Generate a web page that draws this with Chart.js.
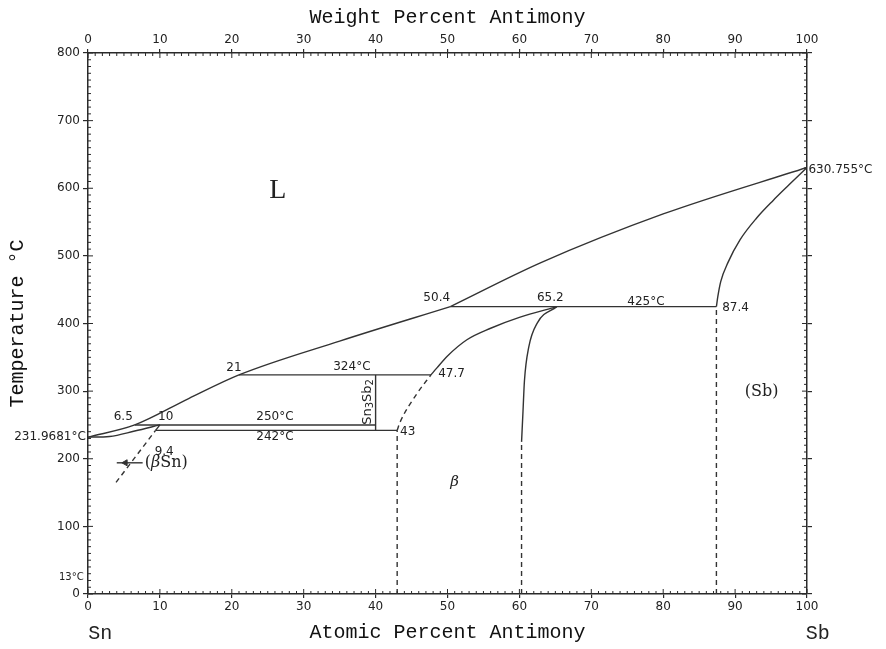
<!DOCTYPE html>
<html>
<head>
<meta charset="utf-8">
<script src="https://cdn.jsdelivr.net/npm/chart.js@4.4.1/dist/chart.umd.min.js"></script>
<style>
html, body { margin: 0; padding: 0; background: #fff; }
#wrap { width: 886px; height: 649px; }
</style>
</head>
<body>
<div id="wrap"><canvas id="diagrama" width="886" height="649"></canvas></div>
<script>
// ticks
const ticksAtomico = [0, 10, 20, 30, 40, 50, 60, 70, 80, 90, 100];
const ticksPeso = [0, 10, 20, 30, 40, 50, 60, 70, 80, 90, 100];
const ticksTemp = [0, 100, 200, 300, 400, 500, 600, 700, 800];

// curvas (at.% Sb, °C)
const liquidoSn = [[0, 231.9681], [6.5, 250], [14, 289], [21, 324], [35, 374], [50.4, 425]];
const liquidoSb = [[50.4, 425], [63, 490], [80, 562], [100, 630.755]];
const solidoSn = [[0, 231.9681], [3, 233], [6.5, 241], [10, 250]];
const solvusSn = [[9.4, 242], [10, 250]];
const solvusSnPunteado = [[3.9, 165], [9.4, 242]];
const linea250 = [[6.5, 250], [40, 250]];
const linea242 = [[9.4, 242], [43, 242]];
const linea324 = [[21, 324], [47.7, 324]];
const linea425 = [[50.4, 425], [87.4, 425]];
const lineaSn3Sb2 = [[40, 242], [40, 324]];
const betaIzq = [[47.7, 324], [48.5, 334], [50, 352], [52.7, 376], [56, 393], [60, 409], [65.2, 425]];
const betaIzqPunteado = [[43, 242], [43.4, 254], [45.8, 297], [47.7, 324]];
const betaDer = [[60.3, 225], [60.5, 270], [60.7, 315], [61.3, 365], [62.5, 401], [65.2, 425]];
const solidoSb = [[87.4, 425], [87.6, 440], [88, 462], [89, 490], [90.7, 524], [93, 556], [95.3, 582], [97.5, 605], [100, 630.755]];
const vertical43 = [[43, 0], [43, 242]];
const vertical60 = [[60.3, 0], [60.3, 225]];
const vertical87 = [[87.4, 0], [87.4, 425]];
const flechaSn = [[4, 194], [7.6, 194]];
const puntaFlecha = [[5.2, 194]];

// textos del diagrama
const anotaciones = [
    { t: '6.5', x: 4.9, y: 262 },
    { t: '10', x: 10.8, y: 262 },
    { t: '9.4', x: 10.6, y: 210 },
    { t: '250°C', x: 26, y: 262 },
    { t: '242°C', x: 26, y: 232 },
    { t: '21', x: 20.3, y: 334 },
    { t: '324°C', x: 36.7, y: 336 },
    { t: '47.7', x: 48.7, y: 325, a: 'left' },
    { t: '43', x: 43.4, y: 240, a: 'left' },
    { t: '50.4', x: 48.5, y: 438 },
    { t: '65.2', x: 64.3, y: 438 },
    { t: '425°C', x: 77.6, y: 432 },
    { t: '87.4', x: 88.2, y: 423, a: 'left' },
    { t: '630.755°C', x: 100.2, y: 627, a: 'left' },
    { t: '231.9681°C', x: -0.3, y: 232, a: 'right' },
    { t: '13°C', x: -0.6, y: 24, a: 'right', f: '10px "DejaVu Sans"' },
    { t: 'L', x: 26.4, y: 597, f: '28px "Liberation Serif"' },
    { t: '(Sb)', x: 93.7, y: 299, f: '16px "DejaVu Serif"' },
    { t: 'β', x: 51, y: 166, f: 'italic 15px "DejaVu Serif"' },
    { t: 'Sn', x: 1.7, y: -58, f: '20px "Liberation Mono"' },
    { t: 'Sb', x: 101.5, y: -58, f: '20px "Liberation Mono"' },
];

const colorLinea = '#333';
const colorEje = '#2a2a2a';
const fuenteTicks = { family: 'DejaVu Sans', size: 12 };
const fuenteTitulo = { family: 'Liberation Mono', size: 20 };

function serie(puntos, punteado, suave) {
    return {
        data: puntos.map(p => ({ x: p[0], y: p[1] })),
        showLine: true,
        pointRadius: 0,
        borderColor: colorLinea,
        borderWidth: 1.4,
        borderDash: punteado ? [5, 4] : [],
        cubicInterpolationMode: suave ? 'monotone' : 'default',
        tension: 0,
    };
}

const dibujarExtras = {
    id: 'dibujarExtras',
    afterDraw(chart) {
        const { ctx, chartArea: a, scales } = chart;
        ctx.save();
        ctx.strokeStyle = colorEje;
        ctx.lineWidth = 1;
        ctx.beginPath();
        // ticks menores y ticks interiores
        for (let v = 0; v <= 100; v++) {
            const len = v % 10 === 0 ? 5 : 3;
            const pb = scales.x.getPixelForValue(v);
            const pt = scales.x2.getPixelForValue(v);
            ctx.moveTo(pb, a.bottom); ctx.lineTo(pb, a.bottom - len);
            ctx.moveTo(pt, a.top); ctx.lineTo(pt, a.top + len);
        }
        for (let t = 0; t <= 800; t += 10) {
            const len = t % 100 === 0 ? 5 : 3;
            const py = scales.y.getPixelForValue(t);
            ctx.moveTo(a.left, py); ctx.lineTo(a.left + len, py);
            ctx.moveTo(a.right, py); ctx.lineTo(a.right - len, py);
        }
        ctx.stroke();

        // textos
        ctx.fillStyle = '#222';
        ctx.textBaseline = 'middle';
        for (const an of anotaciones) {
            ctx.font = an.f || '12px "DejaVu Sans"';
            ctx.textAlign = an.a || 'center';
            ctx.fillText(an.t, scales.x.getPixelForValue(an.x), scales.y.getPixelForValue(an.y));
        }

        // (βSn)
        let px = scales.x.getPixelForValue(7.9);
        const py = scales.y.getPixelForValue(194);
        ctx.textAlign = 'left';
        ctx.font = '16px "DejaVu Serif"';
        ctx.fillText('(', px, py); px += ctx.measureText('(').width;
        ctx.font = 'italic 16px "DejaVu Serif"';
        ctx.fillText('β', px, py); px += ctx.measureText('β').width;
        ctx.font = '16px "DejaVu Serif"';
        ctx.fillText('Sn)', px, py);

        // Sn3Sb2 vertical
        ctx.translate(scales.x.getPixelForValue(40) - 8, scales.y.getPixelForValue(284));
        ctx.rotate(-Math.PI / 2);
        const partes = [['Sn', 13, 0], ['3', 10, 3], ['Sb', 13, 0], ['2', 10, 3]];
        let ancho = 0;
        for (const p of partes) { ctx.font = p[1] + 'px "DejaVu Sans"'; ancho += ctx.measureText(p[0]).width; }
        let cx = -ancho / 2;
        for (const p of partes) {
            ctx.font = p[1] + 'px "DejaVu Sans"';
            ctx.fillText(p[0], cx, p[2]);
            cx += ctx.measureText(p[0]).width;
        }
        ctx.restore();
    }
};

function ejeX(posicion, ticks, titulo, alto, relleno) {
    return {
        type: 'linear',
        position: posicion,
        axis: 'x',
        min: 0,
        max: 100,
        afterBuildTicks: s => { s.ticks = ticks.map(v => ({ value: v })); },
        afterFit: s => { s.height = alto; },
        ticks: { font: fuenteTicks, color: '#222', padding: 2, maxRotation: 0, autoSkip: false },
        grid: { drawOnChartArea: false, tickLength: 4, color: colorEje, lineWidth: 1.2 },
        border: { color: colorEje, width: 1.5 },
        title: { display: true, text: titulo, font: fuenteTitulo, color: '#111', padding: relleno },
    };
}

function ejeY(posicion, ancho, mostrar) {
    return {
        type: 'linear',
        position: posicion,
        axis: 'y',
        min: 0,
        max: 800,
        afterBuildTicks: s => { s.ticks = ticksTemp.map(v => ({ value: v })); },
        afterFit: s => { s.width = ancho; },
        ticks: { display: mostrar, font: fuenteTicks, color: '#222', padding: 3, autoSkip: false },
        grid: { drawOnChartArea: false, tickLength: 5, color: colorEje, lineWidth: 1.2 },
        border: { color: colorEje, width: 1.5 },
        title: { display: mostrar, text: 'Temperature °C', font: fuenteTitulo, color: '#111', padding: { top: 6, bottom: 0 } },
    };
}

const flecha = {
    data: puntaFlecha.map(p => ({ x: p[0], y: p[1] })),
    showLine: false,
    pointStyle: 'triangle',
    rotation: 270,
    pointRadius: 3.5,
    backgroundColor: colorLinea,
    borderColor: colorLinea,
};

new Chart(document.getElementById('diagrama'), {
    type: 'scatter',
    data: {
        datasets: [
            serie(liquidoSn, false, true),
            serie(liquidoSb, false, true),
            serie(solidoSn, false, true),
            serie(solvusSn, false, false),
            serie(solvusSnPunteado, true, false),
            serie(linea250, false, false),
            serie(linea242, false, false),
            serie(linea324, false, false),
            serie(linea425, false, false),
            serie(lineaSn3Sb2, false, false),
            serie(betaIzq, false, true),
            serie(betaIzqPunteado, true, true),
            serie(betaDer, false, true),
            serie(solidoSb, false, true),
            serie(vertical43, true, false),
            serie(vertical60, true, false),
            serie(vertical87, true, false),
            serie(flechaSn, false, false),
            flecha,
        ]
    },
    options: {
        responsive: false,
        animation: false,
        devicePixelRatio: 1,
        layout: { padding: 0 },
        plugins: { legend: { display: false }, tooltip: { enabled: false } },
        scales: {
            x: ejeX('bottom', ticksAtomico, 'Atomic Percent Antimony', 55, { top: 0, bottom: 4 }),
            x2: ejeX('top', ticksPeso, 'Weight Percent Antimony', 53, { top: 6, bottom: 0 }),
            y: ejeY('left', 88, true),
            y2: ejeY('right', 79, false),
        }
    },
    plugins: [dibujarExtras]
});
</script>
</body>
</html>
